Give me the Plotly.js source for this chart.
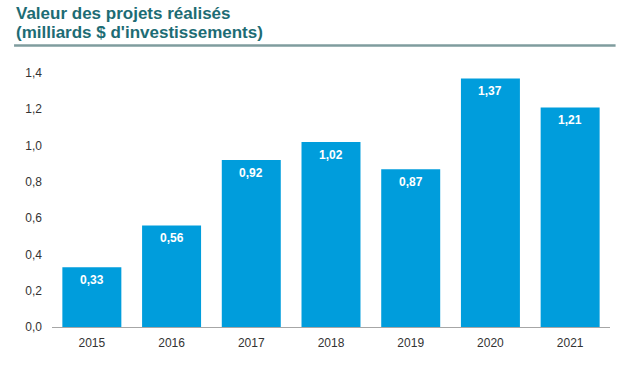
<!DOCTYPE html>
<html>
<head>
<meta charset="utf-8">
<script src="https://cdn.plot.ly/plotly-3.0.1.min.js"></script>
<style>html,body{margin:0;padding:0;background:#fff;}#chart{width:630px;height:387px;}</style>
</head>
<body>
<div id="chart"></div>
<script>
const years = ['2015','2016','2017','2018','2019','2020','2021'];
const values = [0.33, 0.56, 0.92, 1.02, 0.87, 1.37, 1.21];
const yTicks = [0, 0.2, 0.4, 0.6, 0.8, 1.0, 1.2, 1.4];
const titleLines = ['Valeur des projets réalisés', '(milliards $ d\'investissements)'];

const fam = 'Liberation Sans, Arial, sans-serif';

const trace = {
  type: 'bar',
  x: years,
  y: values,
  marker: {color: '#009ddc'},
  hoverinfo: 'none'
};

const labelAnnots = years.map((yr, i) => ({
  x: i, y: values[i], xref: 'x', yref: 'y',
  text: values[i].toFixed(2).replace('.', ','),
  showarrow: false, yanchor: 'middle', yshift: -13,
  font: {family: fam, size: 12, color: '#ffffff', weight: 'bold'}
}));

const titleAnnots = titleLines.map((t, i) => ({
  text: t, xref: 'paper', yref: 'paper',
  x: -0.068, y: [1.2323, 1.1575][i], xanchor: 'left', yanchor: 'middle',
  showarrow: false,
  font: {family: fam, size: 17, color: '#1d6c74', weight: 'bold'}
}));

const layout = {
  width: 630, height: 387,
  margin: {l: 52, r: 20, t: 73, b: 60},
  paper_bgcolor: '#ffffff', plot_bgcolor: '#ffffff',
  separators: ',.',
  bargap: 0.26,
  showlegend: false,
  font: {family: fam, size: 12, color: '#333333'},
  xaxis: {
    type: 'category',
    range: [-0.5, 6.5],
    showline: true, linecolor: '#a6a6a6', linewidth: 1,
    ticks: '', showgrid: false, zeroline: false,
    ticklabelstandoff: 5,
    tickfont: {size: 12, color: '#333333'}
  },
  yaxis: {
    range: [0, 1.4],
    tickvals: yTicks,
    tickformat: '.1f',
    showgrid: false, zeroline: false, showline: false,
    ticks: '', ticklabelstandoff: 9,
    tickfont: {size: 12, color: '#333333'}
  },
  annotations: titleAnnots.concat(labelAnnots),
  shapes: [{
    type: 'line', xref: 'paper', yref: 'paper',
    x0: -0.068, x1: 1.01, y0: 1.108, y1: 1.108,
    line: {color: '#7f9c9e', width: 2.5}
  }]
};

Plotly.newPlot('chart', [trace], layout, {staticPlot: true, displayModeBar: false});
</script>
</body>
</html>
